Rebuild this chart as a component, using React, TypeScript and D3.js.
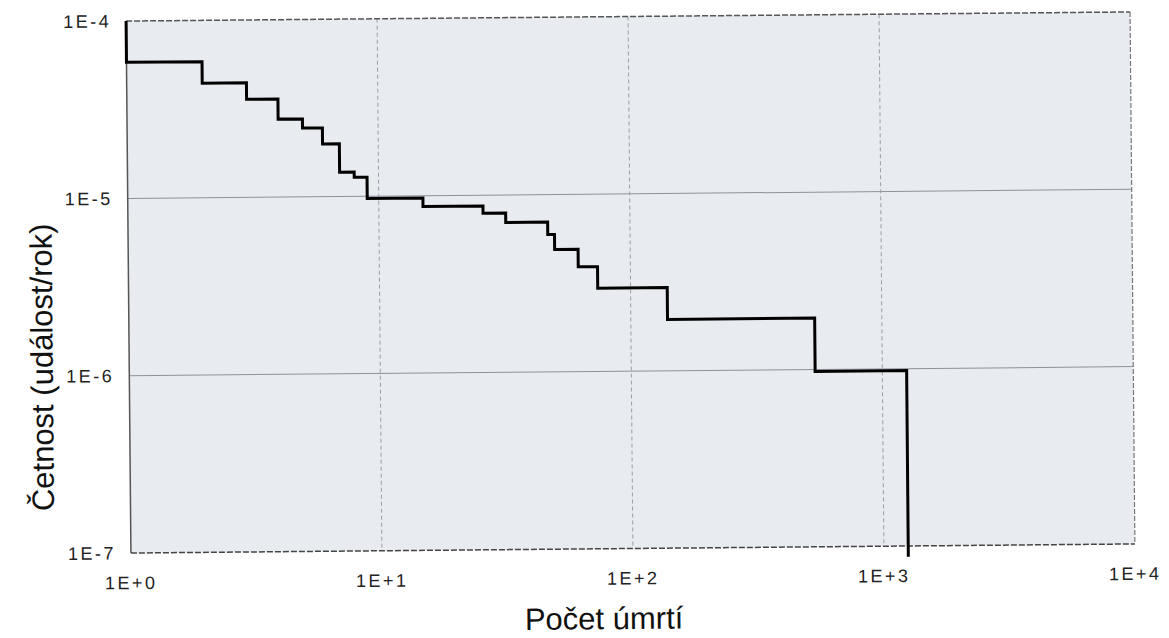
import React, { useEffect, useRef } from 'react';
import * as d3 from 'd3';

// F-N curve: number of deaths vs. cumulative frequency (events / year)
const deaths = [1, 1, 2, 3, 4, 5, 6, 7, 8, 9, 15, 26, 32, 47, 50, 62, 74, 140, 540, 1250];
const frequency = [
  1e-4, 5.85e-5, 4.42e-5, 3.57e-5, 2.75e-5, 2.44e-5, 1.98e-5, 1.37e-5, 1.28e-5, 9.7e-6,
  8.7e-6, 7.9e-6, 7.0e-6, 5.95e-6, 4.9e-6, 3.9e-6, 2.95e-6, 1.95e-6, 9.75e-7, 8.7e-8,
];
const xTicks = [1, 10, 100, 1000, 10000];
const xTickLabels = ['1E+0', '1E+1', '1E+2', '1E+3', '1E+4'];
const yTicks = [1e-4, 1e-5, 1e-6, 1e-7];
const yTickLabels = ['1E-4', '1E-5', '1E-6', '1E-7'];
const xTitle = 'Počet úmrtí';
const yTitle = 'Četnost (událost/rok)';

export default function App() {
  const svgRef = useRef<SVGSVGElement | null>(null);

  useEffect(() => {
    if (!svgRef.current) return;
    const svg = d3.select(svgRef.current);
    svg.selectAll('*').remove();

    const width = 1169;
    const height = 638;
    const margin = { top: 16.5, right: 36.5, bottom: 89.5, left: 128.5 };
    const innerW = width - margin.left - margin.right;
    const innerH = height - margin.top - margin.bottom;

    const x = d3.scaleLog().domain([1, 10000]).range([margin.left, margin.left + innerW]);
    const y = d3.scaleLog().domain([1e-7, 1e-4]).range([margin.top + innerH, margin.top]);

    // the scanned original is tilted by half a degree
    const root = svg.append('g').attr('transform', `rotate(-0.52, 630, 283)`);

    root.append('rect')
      .attr('x', margin.left).attr('y', margin.top)
      .attr('width', innerW).attr('height', innerH)
      .attr('fill', '#e8ebf0');

    // grid
    root.append('g')
      .selectAll('line')
      .data(yTicks.slice(1, -1))
      .join('line')
      .attr('x1', margin.left).attr('x2', margin.left + innerW)
      .attr('y1', d => y(d)).attr('y2', d => y(d))
      .attr('stroke', '#8c919b').attr('stroke-width', 1);

    root.append('g')
      .selectAll('line')
      .data(xTicks.slice(1, -1))
      .join('line')
      .attr('x1', d => x(d)).attr('x2', d => x(d))
      .attr('y1', margin.top).attr('y2', margin.top + innerH)
      .attr('stroke', '#9a9ea6').attr('stroke-width', 1)
      .attr('stroke-dasharray', '4,3');

    // frame
    const frame = root.append('g').attr('fill', 'none');
    frame.append('line')
      .attr('x1', margin.left).attr('x2', margin.left + innerW)
      .attr('y1', margin.top).attr('y2', margin.top)
      .attr('stroke', '#555').attr('stroke-width', 1.5).attr('stroke-dasharray', '6,2');
    frame.append('line')
      .attr('x1', margin.left).attr('x2', margin.left + innerW)
      .attr('y1', margin.top + innerH).attr('y2', margin.top + innerH)
      .attr('stroke', '#444').attr('stroke-width', 1.5).attr('stroke-dasharray', '6,2');
    frame.append('line')
      .attr('x1', margin.left).attr('x2', margin.left)
      .attr('y1', margin.top).attr('y2', margin.top + innerH)
      .attr('stroke', '#555').attr('stroke-width', 1.5);
    frame.append('line')
      .attr('x1', margin.left + innerW).attr('x2', margin.left + innerW)
      .attr('y1', margin.top).attr('y2', margin.top + innerH)
      .attr('stroke', '#777').attr('stroke-width', 1.2).attr('stroke-dasharray', '5,2');

    // F-N step curve
    const pts = deaths.map((d, i) => ({ n: d, f: frequency[i] }));
    const line = d3.line<{ n: number; f: number }>()
      .x(d => x(d.n))
      .y(d => y(d.f))
      .curve(d3.curveStepAfter);
    root.append('path')
      .datum(pts)
      .attr('fill', 'none')
      .attr('stroke', '#000')
      .attr('stroke-width', 3)
      .attr('stroke-linejoin', 'miter')
      .attr('d', line);

    // tick labels
    const font = 'Liberation Sans, Arial, sans-serif';
    root.append('g')
      .selectAll('text')
      .data(xTicks)
      .join('text')
      .attr('x', d => x(d))
      .attr('y', margin.top + innerH + 36)
      .attr('text-anchor', 'middle')
      .attr('font-family', font)
      .attr('font-size', 18)
      .attr('letter-spacing', 2.5)
      .attr('fill', '#222')
      .text((d, i) => xTickLabels[i]);

    root.append('g')
      .selectAll('text')
      .data(yTicks)
      .join('text')
      .attr('x', margin.left - 15)
      .attr('y', d => y(d))
      .attr('dy', '0.35em')
      .attr('text-anchor', 'end')
      .attr('font-family', font)
      .attr('font-size', 18)
      .attr('letter-spacing', 2.5)
      .attr('fill', '#222')
      .text((d, i) => yTickLabels[i]);

    // axis titles
    root.append('text')
      .attr('x', 601)
      .attr('y', 629)
      .attr('text-anchor', 'middle')
      .attr('font-family', font)
      .attr('font-size', 31)
      .attr('fill', '#111')
      .text(xTitle);

    root.append('text')
      .attr('transform', `translate(52, 362) rotate(-90)`)
      .attr('text-anchor', 'middle')
      .attr('font-family', font)
      .attr('font-size', 31)
      .attr('fill', '#111')
      .text(yTitle);
  }, []);

  return (
    <svg
      ref={svgRef}
      width={1169}
      height={638}
      style={{ position: 'absolute', left: 0, top: 0, background: '#fff' }}
    />
  );
}
